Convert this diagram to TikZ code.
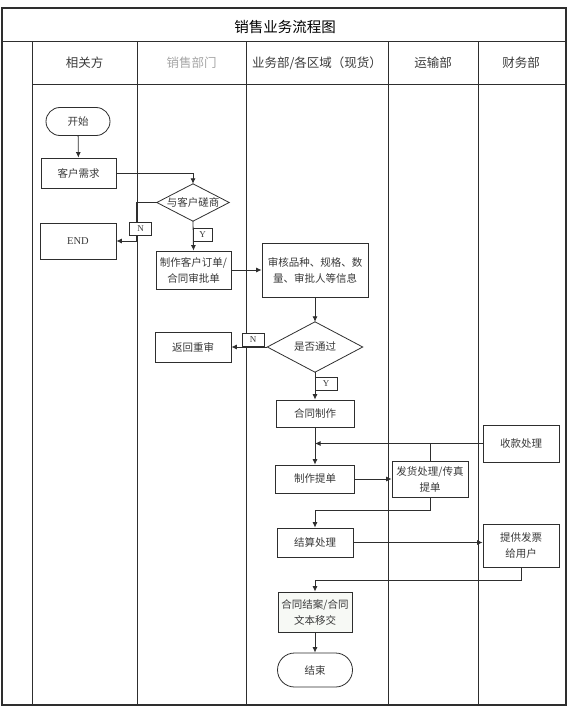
\documentclass[tikz,border=0pt]{standalone}
\usepackage{fontspec}
\setmainfont{Liberation Serif}
\newfontfamily\cjk{Noto Sans CJK SC}
\usepackage{tikz}
\usetikzlibrary{arrows.meta,positioning,calc}
\definecolor{lineink}{HTML}{2E2E2E}
\definecolor{textink}{HTML}{3A3A3A}
\definecolor{fadedink}{HTML}{A6A6A6}
\definecolor{softtint}{HTML}{F7F9F5}
\tikzset{
  frame/.style={draw=lineink, line width=1.4pt},
  lane/.style={draw=lineink, line width=1pt},
  title/.style={font=\cjk\fontsize{14.5}{16}\selectfont, text=black},
  head/.style={font=\cjk\fontsize{12.5}{14}\selectfont, text=textink},
  box/.style={draw=lineink, line width=0.8pt, fill=white, text=textink, inner sep=0pt,
    font=\cjk\fontsize{10.5}{16}\selectfont, align=center},
  term/.style={box, rounded corners=#1},
  decide/.style={inner sep=0pt, text=textink, font=\cjk\fontsize{10.5}{16}\selectfont},
  yn/.style={draw=lineink, line width=0.8pt, fill=white, text=textink, inner sep=0pt,
    font=\fontsize{9}{10}\selectfont, minimum width=22pt, minimum height=13pt},
  flow/.style={draw=lineink, line width=0.8pt, ->}
}
\begin{document}
\begin{tikzpicture}[x=1pt, y=-1pt, >={Latex[length=5.5pt,width=5pt]}]
  \useasboundingbox (0,0) rectangle (571,709);
  % swimlane frame
  \draw[frame] (2,8) rectangle (566,705);
  \draw[lane] (2,42) -- (566,42);
  \draw[lane] (32,84) -- (566,84);
  \foreach \x in {32,137,246,388,478} \draw[lane] (\x,42) -- (\x,705);
  \node[title] (title) at (285,27) {销售业务流程图};
  \node[head] (hParty) at (84.5,63) {相关方};
  \node[head, text=fadedink] (hSales) at (191.5,63) {销售部门};
  \node[head] (hBiz) at (317,63) {业务部/各区域（现货）};
  \node[head] (hShip) at (433,63) {运输部};
  \node[head] (hFin) at (521,63) {财务部};

  % nodes
  \node[term=14pt, minimum width=64pt, minimum height=28pt] (start) at (78,121.5) {开始};
  \node[box, minimum width=75pt, minimum height=30pt] (need) at (78.5,173) {客户需求};
  \node[decide, minimum width=72pt, minimum height=37pt] (talk) at (193,202.5) {与客户磋商};
  \draw[lane, line width=0.8pt] (talk.north) -- (talk.east) -- (talk.south) -- (talk.west) -- cycle;
  \node[box, font=\fontsize{10.5}{12}\selectfont, minimum width=76pt, minimum height=36pt] (endA) at (78,241) {END};
  \node[box, minimum width=75pt, minimum height=38pt] (order) at (193.5,270) {制作客户订单/\\合同审批单};
  \node[box, minimum width=106pt, minimum height=54pt] (check) at (315,270) {审核品种、规格、数\\量、审批人等信息};
  \node[decide, minimum width=95pt, minimum height=50pt] (pass) at (315,347) {是否通过};
  \draw[lane, line width=0.8pt] (pass.north) -- (pass.east) -- (pass.south) -- (pass.west) -- cycle;
  \node[box, minimum width=76pt, minimum height=30pt] (back) at (193,347) {返回重审};
  \node[box, minimum width=78pt, minimum height=27pt] (make) at (315,413.5) {合同制作};
  \node[box, minimum width=76pt, minimum height=37pt] (pay) at (521,443.5) {收款处理};
  \node[box, minimum width=79pt, minimum height=28pt] (bill) at (315,479) {制作提单};
  \node[box, minimum width=76pt, minimum height=36pt] (ship) at (430,479) {发货处理/传真\\提单};
  \node[box, minimum width=76pt, minimum height=29pt] (settle) at (315,542.5) {结算处理};
  \node[box, minimum width=76pt, minimum height=43pt] (invoice) at (521,545.5) {提供发票\\给用户};
  \node[box, fill=softtint, minimum width=74pt, minimum height=40pt] (close) at (315,612) {合同结案/合同\\文本移交};
  \node[term=17pt, minimum width=75pt, minimum height=34pt] (stop) at (315,670) {结束};

  % connectors
  \draw[flow] (start) -- (need);
  \draw[flow] (need.east) -| (talk.north);
  \draw[flow] (talk.west) -- ++(-20,0) |- (endA.east);
  \node[yn] (nA) at (140.5,228.5) {N};
  \draw[flow] (talk.south) -- (order.north);
  \node[yn, minimum width=19pt] (yA) at (202.5,235) {Y};
  \draw[flow] (order.east) -- (check.west);
  \draw[flow] (check.south) -- (pass.north);
  \draw[flow] (pass.west) -- (back.east);
  \node[yn] (nB) at (253,340) {N};
  \draw[flow] (pass.south) -- (make.north);
  \node[yn] (yB) at (326,383.5) {Y};
  \draw[flow] (make.south) -- (bill.north);
  \draw[flow] (pay.west) -- (pay.west -| make.south);
  \draw[lane, line width=0.8pt] (ship.north) -- (ship.north |- pay.west);
  \draw[flow] (bill.east) -- (ship.west);
  \draw[flow] (ship.south) -- ++(0,13) -| (settle.north);
  \draw[flow] (settle.east) -- (settle.east -| invoice.west);
  \draw[flow] (invoice.south) -- ++(0,13) -| (close.north);
  \draw[flow] (close.south) -- (stop.north);
\end{tikzpicture}
\end{document}
